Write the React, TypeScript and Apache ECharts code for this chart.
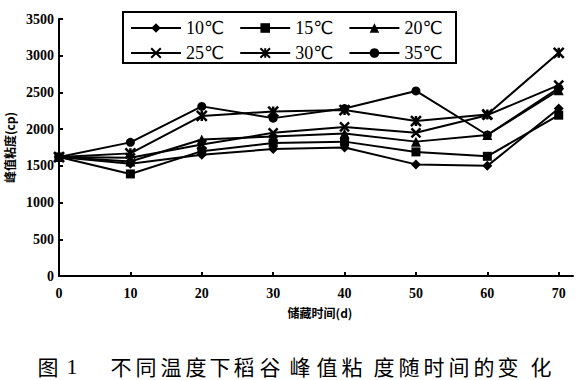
import React, { useEffect, useRef } from "react";
import * as echarts from "echarts";

const days = [0, 10, 20, 30, 40, 50, 60, 70];
const seriesNames = ["10℃", "15℃", "20℃", "25℃", "30℃", "35℃"];
const v10 = [1620, 1530, 1650, 1730, 1750, 1520, 1500, 2280];
const v15 = [1620, 1390, 1700, 1810, 1830, 1690, 1630, 2190];
const v20 = [1620, 1560, 1860, 1900, 1940, 1830, 1920, 2530];
const v25 = [1620, 1610, 1790, 1950, 2030, 1950, 2190, 2600];
const v30 = [1620, 1670, 2180, 2240, 2260, 2110, 2200, 3040];
const v35 = [1620, 1820, 2310, 2150, 2280, 2520, 1920, 2560];
const seriesValues = [v10, v15, v20, v25, v30, v35];
const xTicks = [0, 10, 20, 30, 40, 50, 60, 70];
const yTicks = [0, 500, 1000, 1500, 2000, 2500, 3000, 3500];
const yName = "峰值粘度(cp)";
const xName = "储藏时间(d)";
const captionChars = ["图", "1", "不", "同", "温", "度", "下", "稻", "谷", "峰", "值", "粘", "度", "随", "时", "间", "的", "变", "化"];
const captionX = [48, 72, 121, 146, 171, 196, 220, 244, 270, 300, 327, 352, 384, 409, 434, 459, 484, 508, 541];

const X_SYM = "path://M0,0 L10,10 M10,0 L0,10";
const STAR_SYM = "path://M0,0 L10,10 M10,0 L0,10 M5,0 L5,10";
const symbols = ["diamond", "rect", "triangle", X_SYM, STAR_SYM, "circle"];
const symbolSizes = [10, 9, 10, 9, 10, 9];

export default function App() {
  const ref = useRef<HTMLDivElement>(null);
  useEffect(() => {
    if (!ref.current) return;
    const chart = echarts.init(ref.current, null, { renderer: "svg" });
    const serif = "'Liberation Serif', 'Times New Roman', serif";
    const cjk = "'Noto Sans CJK SC', sans-serif";
    const legendText = { fontFamily: serif + ", 'DejaVu Sans'", fontSize: 18, color: "#000" };
    const series = seriesNames.map((name, i) => {
      const stroked = i === 3 || i === 4;
      return {
        name,
        type: "line",
        data: days.map((d, j) => [d, seriesValues[i][j]]),
        symbol: symbols[i],
        symbolSize: symbolSizes[i],
        showSymbol: true,
        lineStyle: { color: "#000", width: 2 },
        itemStyle: stroked
          ? { color: "#000", borderColor: "#000", borderWidth: 2.5 }
          : { color: "#000" },
        emphasis: { disabled: true },
        z: 2,
      };
    });
    const legendBase = {
      orient: "horizontal",
      itemWidth: 50,
      itemHeight: 12,
      itemGap: 15,
      textStyle: legendText,
      selectedMode: false,
      padding: 0,
    };
    chart.setOption({
      animation: false,
      backgroundColor: "#fff",
      grid: { left: 59, right: 5, top: 19, bottom: 104, containLabel: false, outerBoundsMode: "none" },
      xAxis: {
        type: "value",
        min: 0,
        max: 72,
        interval: 10,
        name: xName,
        nameLocation: "middle",
        nameGap: 30,
        nameTextStyle: { fontFamily: cjk, fontWeight: "bold", fontSize: 12, color: "#000", padding: [0, 0, 0, 8] },
        axisLine: { lineStyle: { color: "#000", width: 2 } },
        axisTick: { inside: true, length: 4, customValues: xTicks, lineStyle: { color: "#000", width: 2 } },
        axisLabel: {
          customValues: xTicks,
          formatter: (v: number) => String(v),
          fontFamily: serif,
          fontWeight: "bold",
          fontSize: 14,
          color: "#000",
          margin: 10,
        },
        splitLine: { show: false },
      },
      yAxis: {
        type: "value",
        min: 0,
        max: 3500,
        interval: 500,
        name: yName,
        nameLocation: "middle",
        nameRotate: 90,
        nameGap: 44,
        nameTextStyle: { fontFamily: cjk, fontWeight: "bold", fontSize: 12, color: "#000" },
        axisLine: { show: true, lineStyle: { color: "#000", width: 2 } },
        axisTick: { show: true, inside: true, length: 4, customValues: yTicks, lineStyle: { color: "#000", width: 2 } },
        axisLabel: {
          customValues: yTicks,
          formatter: (v: number) => String(v),
          fontFamily: serif,
          fontWeight: "bold",
          fontSize: 14,
          color: "#000",
          margin: 5,
        },
        splitLine: { show: false },
      },
      legend: [
        { ...legendBase, data: seriesNames.slice(0, 3), left: 130, top: 19 },
        { ...legendBase, data: seriesNames.slice(3, 6), left: 130, top: 44 },
      ],
      graphic: [
        {
          type: "rect",
          shape: { x: 123, y: 12, width: 333, height: 51 },
          style: { fill: "none", stroke: "#000", lineWidth: 2 },
          z: 10,
        },
        ...captionChars.map((c, i) => ({
          type: "text",
          x: captionX[i],
          y: 366,
          style: {
            text: c,
            fontFamily: i === 1 ? serif : cjk,
            fontSize: i === 1 ? 22 : 21,
            fill: "#000",
            textAlign: "center",
            textVerticalAlign: "middle",
          },
        })),
      ],
      series,
    });
    return () => chart.dispose();
  }, []);
  return <div ref={ref} style={{ width: 578, height: 380, position: "absolute", left: 0, top: 0 }} />;
}
